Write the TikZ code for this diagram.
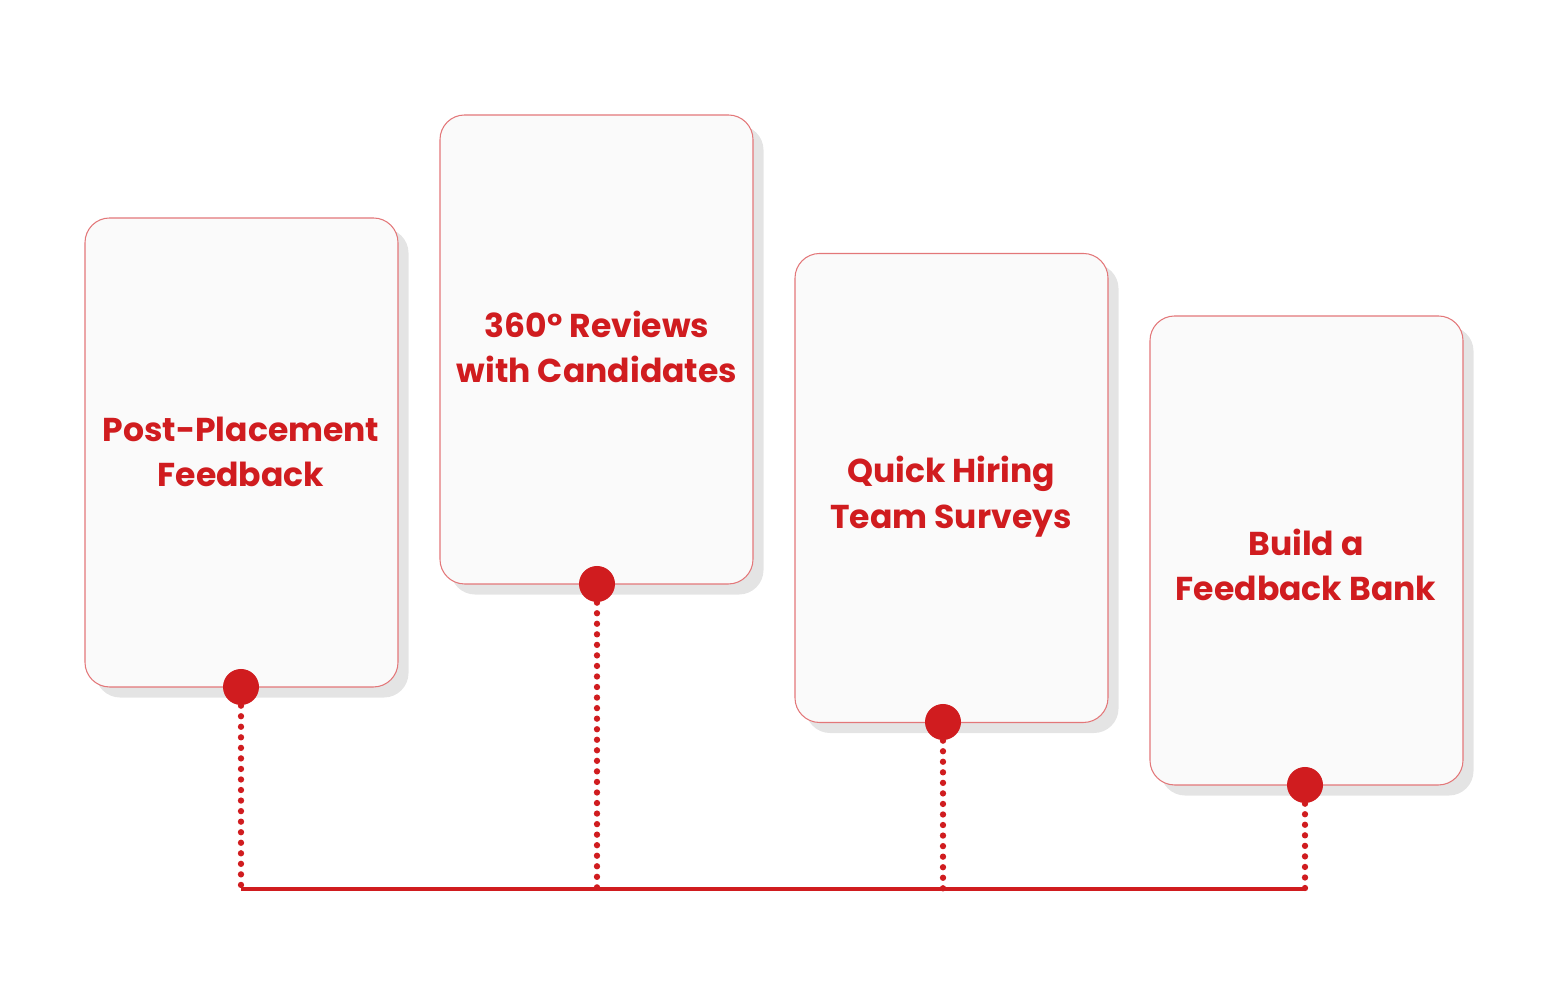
\documentclass[tikz,border=0pt]{standalone}
\usepackage{fontspec}
\setmainfont{Poppins}
\usetikzlibrary{positioning,shadows}
\definecolor{fbred}{HTML}{D01C1F}
\tikzset{
  card/.style={draw=fbred!60,line width=0.3pt,fill=gray!4,rounded corners=7pt,
    minimum width=3.13cm,minimum height=4.69cm,
    drop shadow={shadow xshift=3pt,shadow yshift=-3pt,opacity=0.3,fill=gray!70}},
  cardtext/.style={text=fbred,font=\fontsize{9.4}{13}\selectfont\bfseries,align=center},
  pin/.style={circle,fill=fbred,minimum size=0.36cm,inner sep=0pt},
  link/.style={fbred,line width=1.8pt,dash pattern=on 0pt off 3pt,line cap=round},
}
\begin{document}
\begin{tikzpicture}
\useasboundingbox (0,0) rectangle (15.52,10.08);
% cards
\node[card] (c1) at (2.415,5.555) {};
\node[card] (c2) at (5.965,6.585) {};
\node[card] (c3) at (9.515,5.20) {};
\node[card] (c4) at (13.065,4.575) {};
\node[cardtext] at (2.41,5.56) {Post-Placement\\Feedback};
\node[cardtext] at (5.97,6.61) {360° Reviews\\with Candidates};
\node[cardtext] at (9.51,5.11) {Quick Hiring\\Team Surveys};
\node[cardtext] at (13.06,4.43) {Build a\\Feedback Bank};
% pins
\node[pin] (p1) at (2.41,3.21) {};
\node[pin] (p2) at (5.97,4.24) {};
\node[pin] (p3) at (9.43,2.86) {};
\node[pin] (p4) at (13.05,2.23) {};
\foreach \i in {1,...,4}{
  \coordinate (b\i) at (p\i |- 0,1.19);
  \draw[link] (p\i) -- (b\i);
}
\draw[fbred,line width=0.9pt] (b1) -- (b4);
\end{tikzpicture}
\end{document}
